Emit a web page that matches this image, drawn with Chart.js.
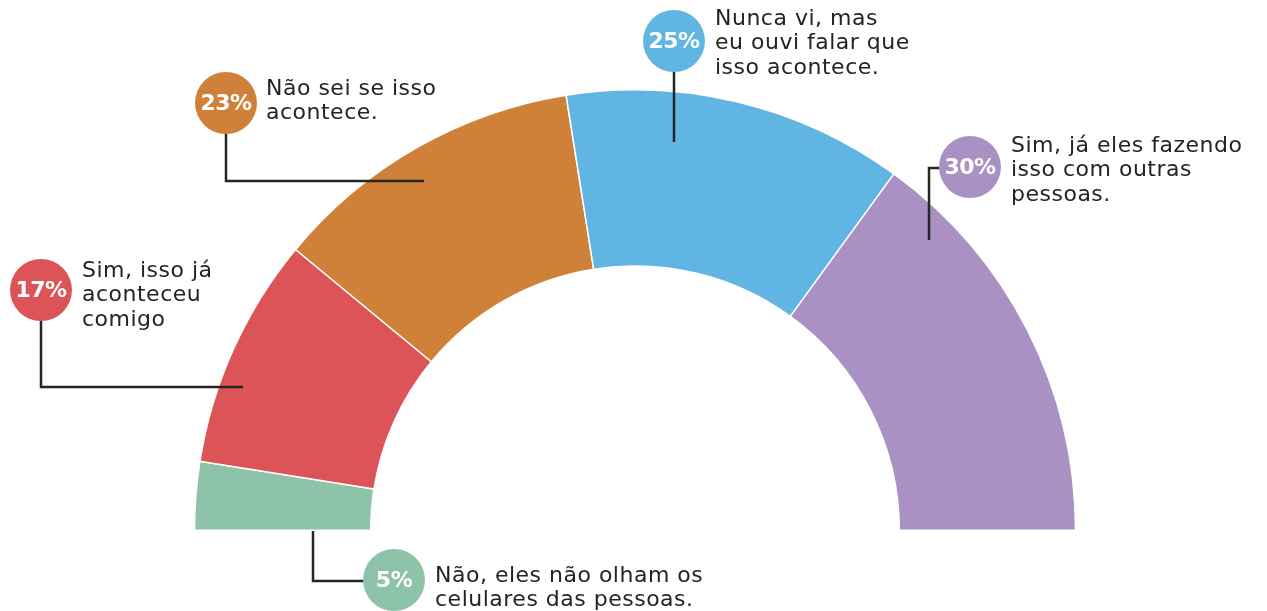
<!DOCTYPE html>
<html>
<head>
<meta charset="utf-8">
<script src="https://cdn.jsdelivr.net/npm/chart.js@4"></script>
<style>
  html, body { margin: 0; padding: 0; background: #fff; }
  #wrap { width: 1267px; height: 611px; position: relative; }
</style>
</head>
<body>
<div id="wrap"><canvas id="chart"></canvas></div>
<script>
// Data
const categories = [
    'Não, eles não olham os|celulares das pessoas.',
    'Sim, isso já|aconteceu|comigo',
    'Não sei se isso|acontece.',
    'Nunca vi, mas|eu ouvi falar que|isso acontece.',
    'Sim, já eles fazendo|isso com outras|pessoas.'
];
const percentValues = [5, 17, 23, 25, 30];
const sliceColors = ['#8dc3a8', '#dd5458', '#d08139', '#61b5e3', '#aa91c4'];

// Callout layout: bubble centre, text start, leader polyline (x,y pairs)
const callouts = [
    { cx: 394, cy: 580, tx: 435, ty: 576, line: [[313, 531], [313, 581], [370, 581]] },
    { cx: 41, cy: 290, tx: 82, ty: 271, line: [[41, 318], [41, 387], [243, 387]] },
    { cx: 226, cy: 103, tx: 266, ty: 89, line: [[226, 130], [226, 181], [424, 181]] },
    { cx: 674, cy: 41, tx: 715, ty: 19, line: [[674, 68], [674, 142]] },
    { cx: 970, cy: 167, tx: 1011, ty: 146, line: [[929, 240], [929, 168], [945, 168]] }
];

const calloutPlugin = {
    id: 'callouts',
    afterDraw(chart) {
        const ctx = chart.ctx;
        ctx.save();
        callouts.forEach((c, i) => {
            // leader line
            ctx.strokeStyle = '#262626';
            ctx.lineWidth = 2.5;
            ctx.beginPath();
            c.line.forEach(([x, y], j) => j ? ctx.lineTo(x, y) : ctx.moveTo(x, y));
            ctx.stroke();

            // bubble
            ctx.fillStyle = sliceColors[i];
            ctx.beginPath();
            ctx.arc(c.cx, c.cy, 31, 0, Math.PI * 2);
            ctx.fill();

            ctx.fillStyle = '#fff';
            ctx.font = 'bold 22px "DejaVu Sans"';
            ctx.letterSpacing = '-0.5px';
            ctx.textAlign = 'center';
            ctx.textBaseline = 'middle';
            ctx.fillText(percentValues[i] + '%', c.cx, c.cy + 1);

            // label text
            ctx.fillStyle = '#242424';
            ctx.font = '22px "DejaVu Sans"';
            ctx.letterSpacing = '0.5px';
            ctx.textAlign = 'left';
            categories[i].split('|').forEach((ln, k) => {
                ctx.fillText(ln, c.tx, c.ty + k * 24.5);
            });
        });
        ctx.restore();
    }
};

new Chart(document.getElementById('chart'), {
    type: 'doughnut',
    data: {
        labels: categories.map(c => c.replace(/\|/g, ' ')),
        datasets: [{
            data: percentValues,
            backgroundColor: sliceColors,
            borderColor: '#ffffff',
            borderWidth: 1.5
        }]
    },
    options: {
        responsive: true,
        maintainAspectRatio: false,
        animation: false,
        rotation: -90,
        circumference: 180,
        cutout: '60%',
        layout: { padding: { top: 89, bottom: 80, left: 191, right: 188 } },
        plugins: {
            legend: { display: false },
            tooltip: { enabled: false }
        }
    },
    plugins: [calloutPlugin]
});
</script>
</body>
</html>
